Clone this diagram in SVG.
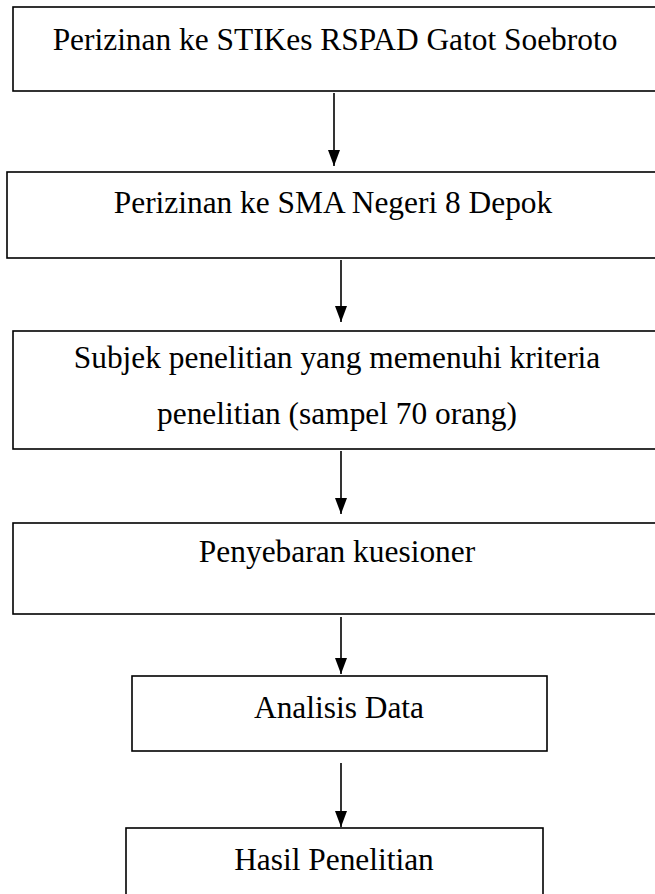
<svg xmlns="http://www.w3.org/2000/svg" width="655" height="894" viewBox="0 0 655 894">
<defs>
<style>
.box{fill:#fff;stroke:#000;stroke-width:1.6}
.lbl{font-family:"Liberation Serif","Times New Roman",serif;font-size:31.4px;fill:#000;text-anchor:middle}
.con{stroke:#000;stroke-width:1.6;fill:none}
</style>
<marker id="ah" viewBox="0 0 16 12" refX="16" refY="6" markerWidth="16" markerHeight="12" markerUnits="userSpaceOnUse" orient="auto">
<path d="M0,0 L16,6 L0,12 Z" fill="#000"/>
</marker>
</defs>
<rect width="655" height="894" fill="#fff"/>
<g id="n1"><rect class="box" x="13" y="7" width="650" height="84"/><text class="lbl" x="335" y="50">Perizinan ke STIKes RSPAD Gatot Soebroto</text></g>
<g id="n2"><rect class="box" x="7" y="172" width="656" height="86"/><text class="lbl" x="333" y="213">Perizinan ke SMA Negeri 8 Depok</text></g>
<g id="n3"><rect class="box" x="13" y="331" width="650" height="118"/><text class="lbl" x="337" y="368">Subjek penelitian yang memenuhi kriteria</text><text class="lbl" x="337" y="424">penelitian (sampel 70 orang)</text></g>
<g id="n4"><rect class="box" x="13" y="523" width="650" height="91"/><text class="lbl" x="337" y="562">Penyebaran kuesioner</text></g>
<g id="n5"><rect class="box" x="132" y="676" width="415" height="75"/><text class="lbl" x="339" y="718">Analisis Data</text></g>
<g id="n6"><rect class="box" x="126" y="828" width="417" height="80"/><text class="lbl" x="334" y="870">Hasil Penelitian</text></g>
<g id="connectors">
<line class="con" x1="334" y1="93" x2="334" y2="166" marker-end="url(#ah)"/>
<line class="con" x1="341" y1="260" x2="341" y2="322" marker-end="url(#ah)"/>
<line class="con" x1="341" y1="451" x2="341" y2="514" marker-end="url(#ah)"/>
<line class="con" x1="341" y1="617" x2="341" y2="674" marker-end="url(#ah)"/>
<line class="con" x1="341" y1="763" x2="341" y2="827" marker-end="url(#ah)"/>
</g>
</svg>
